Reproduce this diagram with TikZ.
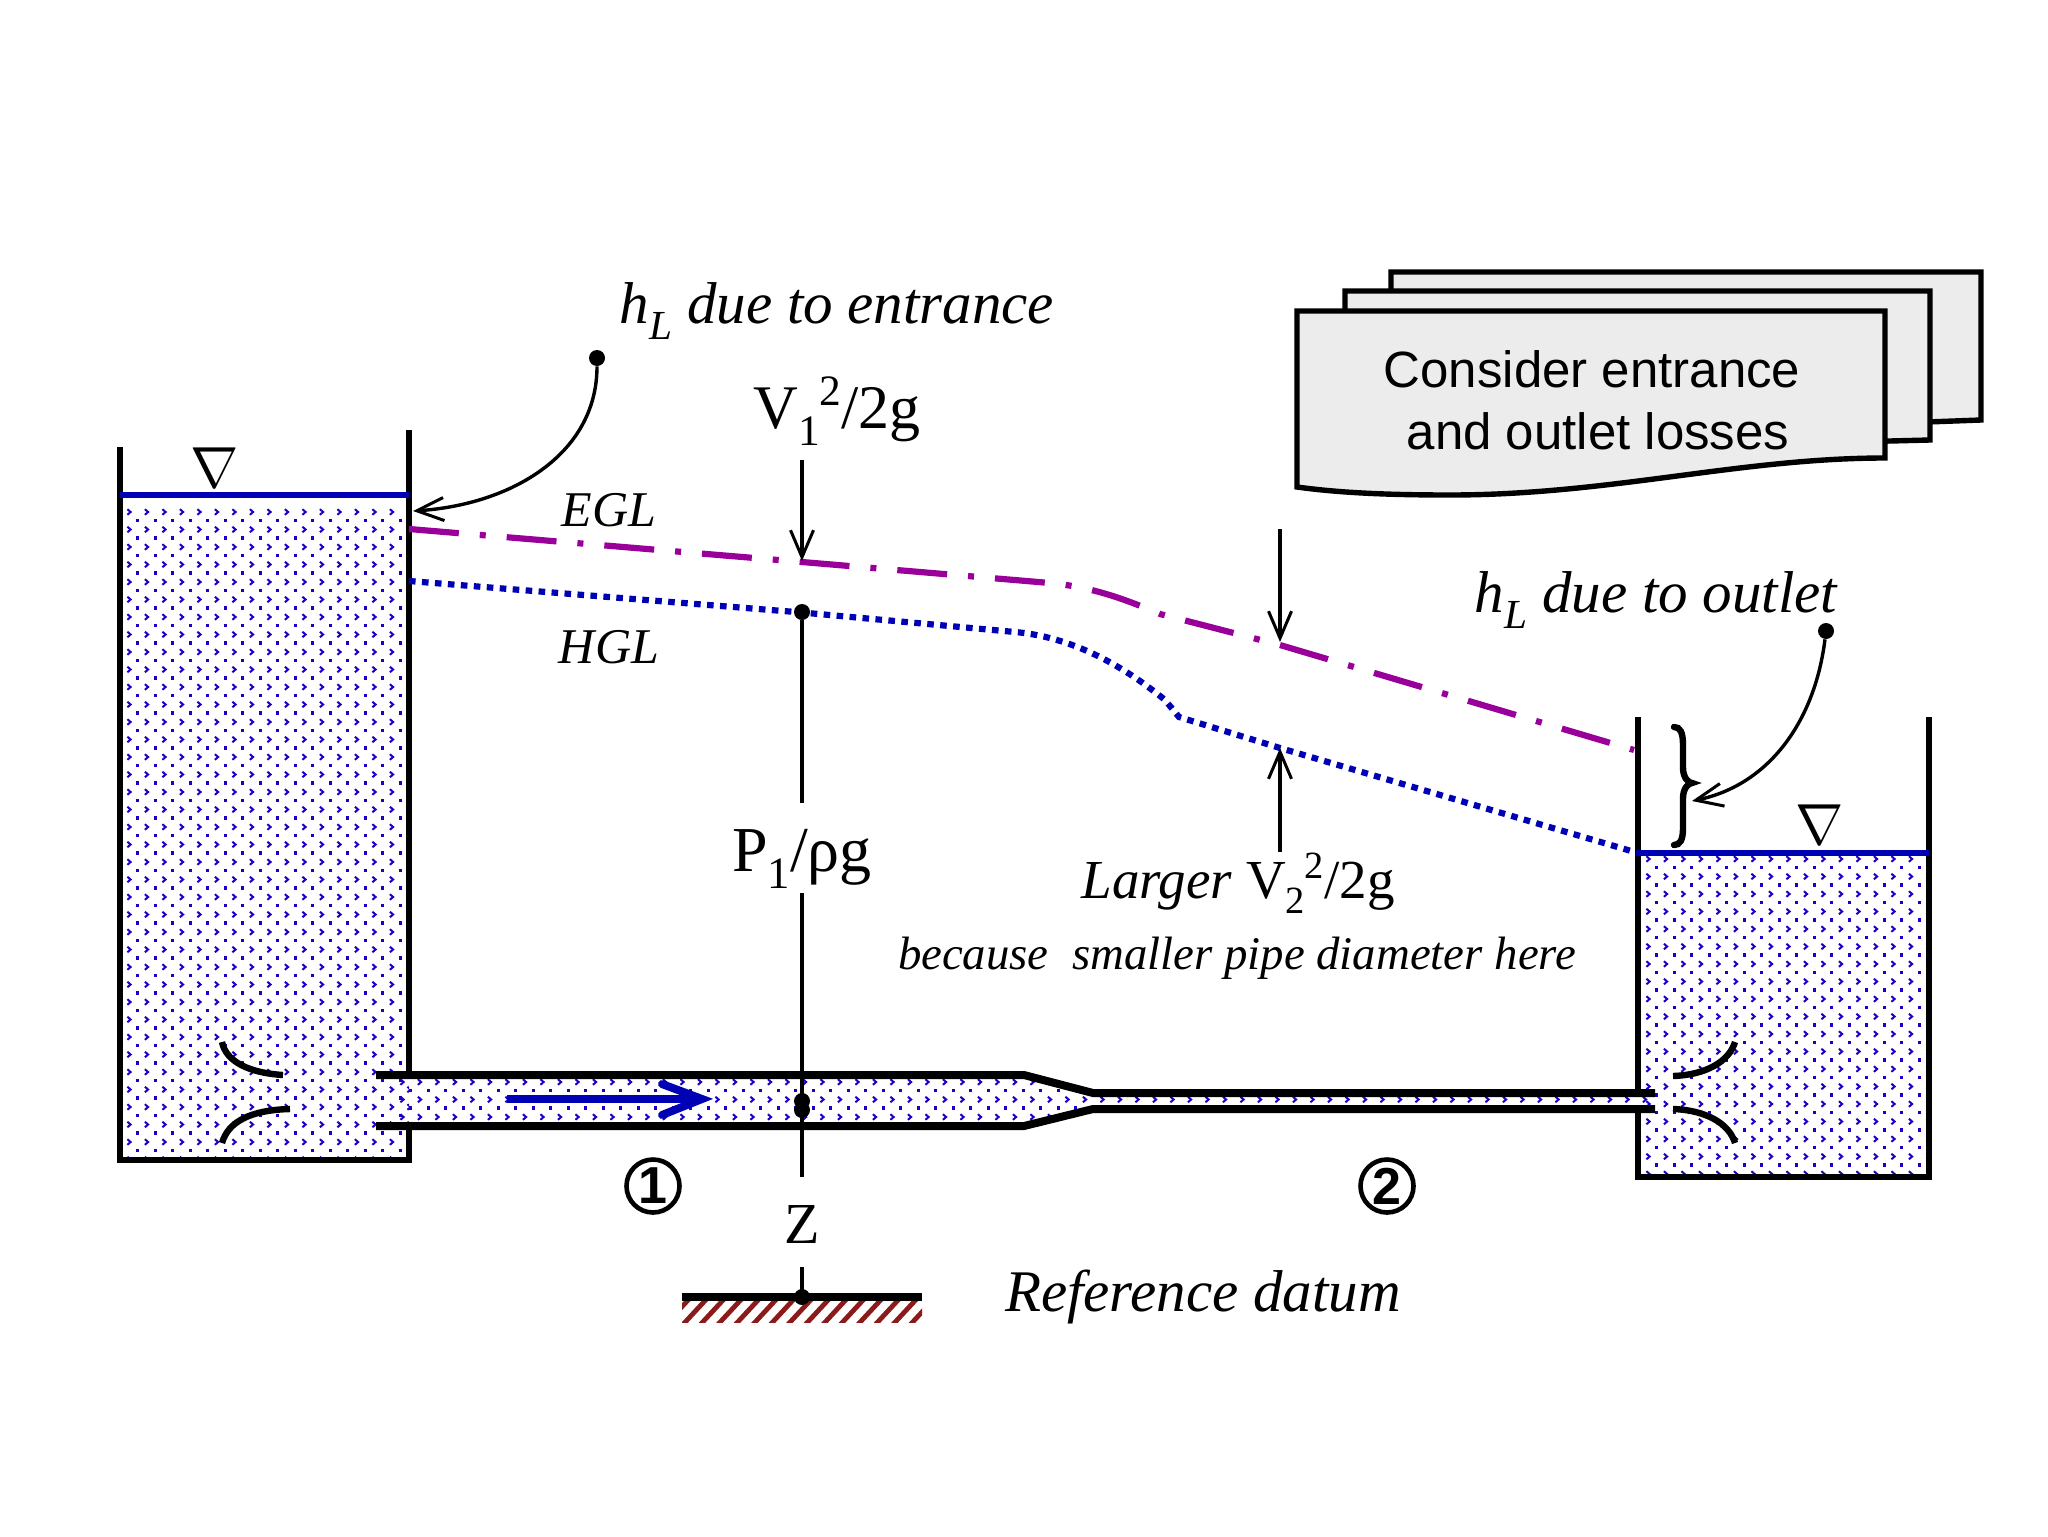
\documentclass[tikz,border=0pt]{standalone}
\usepackage{fontspec}
\setmainfont{Liberation Serif}
\setsansfont{Liberation Sans}
\usetikzlibrary{arrows.meta}
\definecolor{wat}{HTML}{1C00C8}
\definecolor{wline}{HTML}{0000B4}
\definecolor{egl}{HTML}{990099}
\definecolor{hatchc}{HTML}{8B1A1A}
\definecolor{docf}{HTML}{ECECEC}
\newcommand{\fsz}[1]{\fontsize{#1}{#1}\selectfont}
\newcommand{\lowr}[1]{\raisebox{-.28em}{\scalebox{.7}{#1}}}
\newcommand{\uppr}[1]{\raisebox{.36em}{\scalebox{.7}{#1}}}
% water texture: origin x,y ; columns ; rows
\newcommand{\waterdots}[4]{%
  \foreach \ii in {0,...,#3}{\foreach \jj in {0,...,#4}{%
    \draw[wat,line width=1pt,line join=miter] ({#1+\ii*17.5-1.6},{#2+\jj*17.5-2.8}) -- ({#1+\ii*17.5+1.6},{#2+\jj*17.5}) -- ({#1+\ii*17.5-1.6},{#2+\jj*17.5+2.8});
    \fill[wat] ({#1+\ii*17.5+7},{#2+\jj*17.5+6.6}) rectangle ({#1+\ii*17.5+10.4},{#2+\jj*17.5+10});
  }}}
\tikzset{
  wall/.style={line width=3.2pt,black},
  pipewall/.style={line width=4pt,black},
  streamline/.style={line width=3.2pt,black,line cap=butt},
  waterline/.style={line width=2.8pt,wline},
  thinarrow/.style={line width=1.7pt,black,-{Straight Barb[length=13.5pt,width=11.5pt,line width=1.5pt]}},
  thinline/.style={line width=1.7pt,black},
  txt/.style={inner sep=0pt,anchor=base},
  bigit/.style={txt,font=\fsz{29.5}\itshape},
  upr/.style={txt,font=\fsz{31}},
  docbox/.style={line width=2.7pt,draw=black,fill=docf,line join=miter},
  knob/.style={fill=black,circle,inner sep=0pt,minimum size=8pt},
  circnum/.style={circle,draw=black,line width=2.3pt,inner sep=0pt,minimum size=26.5pt,font=\sffamily\bfseries\fsz{26}}
}
\begin{document}
\begin{tikzpicture}[x=0.5pt,y=-0.5pt]
\useasboundingbox (0,0) rectangle (2048,1536);
\fill[white] (0,0) rectangle (2048,1536);

% water textures
\begin{scope}
\clip (120,498) rectangle (409,1160);
\waterdots{129}{512}{16}{37}
\end{scope}
\begin{scope}
\clip (392,1078) -- (1024,1078) -- (1093,1095) -- (1655,1095) -- (1655,1107) -- (1093,1107) -- (1024,1124) -- (392,1124) -- cycle;
\waterdots{402}{1082}{72}{2}
\end{scope}
\begin{scope}
\clip (1638,853) rectangle (1929,1177);
\waterdots{1648}{859}{16}{18}
\end{scope}

% documents
\draw[docbox] (1391,420) -- (1391,272) -- (1981,272) -- (1981,420) -- (1900,423) -- (1391,423);
\draw[docbox] (1345,440) -- (1345,291) -- (1930,291) -- (1930,440) -- (1850,442) -- (1345,442);
\draw[docbox] (1297,487) -- (1297,311) -- (1885,311) -- (1885,458) .. controls (1740,458) and (1610,495) .. (1450,495) .. controls (1390,495) and (1340,493) .. (1297,487) -- cycle;
\node[txt,font=\sffamily\fsz{25.5}] (doc1) at (1592,387) {Consider entrance};
\node[txt,font=\sffamily\fsz{25.5}] (doc2) at (1598,449) {and outlet losses};

% tanks
\draw[wall] (120,447) -- (120,1160) -- (409,1160) -- (409,1126);
\draw[wall] (409,1075) -- (409,430);
\draw[waterline] (120,495) -- (409,495);
\draw[wall] (1638,1092) -- (1638,717);
\draw[wall] (1638,1109) -- (1638,1177) -- (1929,1177) -- (1929,717);
\draw[waterline] (1638,853) -- (1929,853);

% pipes
\draw[pipewall] (376,1075) -- (1024,1075) -- (1093,1093) -- (1655,1093);
\draw[pipewall] (376,1126) -- (1024,1126) -- (1093,1109) -- (1655,1109);

% entrance / exit streamlines
\draw[streamline] (222,1042) .. controls (226,1062) and (250,1073) .. (283,1075);
\draw[streamline] (222,1143) .. controls (228,1122) and (250,1110) .. (290,1109);
\draw[streamline] (1735,1042) .. controls (1729,1062) and (1705,1075) .. (1673,1076);
\draw[streamline] (1735,1143) .. controls (1729,1123) and (1705,1110) .. (1673,1109);

% flow arrow
\coordinate (flowA) at (507,1099);
\coordinate (flowB) at (700,1099);
\draw[wline,line width=4pt] (flowA) -- (flowB);
\draw[wline,line width=4pt,line cap=round,line join=miter] (662,1084) -- (702,1099) -- (662,1115);

% grade lines
\draw[egl,line width=3.1pt,dash pattern=on 25pt off 10.5pt on 3pt off 10.5pt] (409,529) -- (802,562) -- (1050,583) .. controls (1090,587) and (1120,597) .. (1160,614) -- (1280,645) -- (1634,750);
\draw[wline,line width=3.1pt,dash pattern=on 3.3pt off 3.2pt] (409,581) -- (802,612.5) -- (1015,632) .. controls (1060,636) and (1110,655) .. (1165,700) -- (1179,717) -- (1280,748) -- (1638,853);

% labels with nabla
\node[inner sep=0pt,scale=2.9] (nab1) at (215,468) {$\nabla$};
\node[inner sep=0pt,scale=2.9] (nab2) at (1820,825) {$\nabla$};

% vertical column
\node[upr] (v1) at (837,428) {V\lowr{1}\uppr{2}/2g};
\node[upr,font=\fsz{32}] (p1) at (802,871) {P\lowr{1}/ρg};
\node[upr,font=\fsz{29}] (z) at (802,1243) {Z};
\coordinate (v1s) at (802,460);
\coordinate (egl1) at (802,561);
\coordinate (hgl1) at (802,612);
\coordinate (p1t) at (802,803);
\coordinate (p1b) at (802,893);
\coordinate (pipeB) at (802,1177);
\coordinate (zb) at (802,1267);
\coordinate (datum) at (802,1297);
\draw[thinarrow] (v1s) -- (egl1);
\node[knob] (hglk) at (hgl1) {};
\draw[thinline] (hglk) -- (p1t);
\draw[thinline] (p1b) -- (pipeB);
\node[knob] (k1) at (802,1101) {};
\node[knob] (k2) at (802,1110) {};
\draw[thinline] (zb) -- (datum);

% datum
\begin{scope}
\clip (682,1300) rectangle (922,1322);
\foreach \hh in {0,...,15}{
  \draw[hatchc,line width=2.4pt] ({664+\hh*17.5},1326) -- ({664+\hh*17.5+26},1298);
}
\end{scope}
\draw[line width=3.6pt] (682,1297) -- (922,1297);
\node[knob] (dk) at (datum) {};

% text labels
\node[bigit] (hle) at (837,323) {h\lowr{L} due to entrance};
\node[bigit] (hlo) at (1656,612) {h\lowr{L} due to outlet};
\node[txt,font=\fsz{25}\itshape] (egl) at (609,526) {EGL};
\node[txt,font=\fsz{25}\itshape] (hgl) at (609,663) {HGL};
\node[txt,font=\fsz{27.5}] (larger) at (1238,898) {\itshape Larger\upshape{} V\lowr{2}\uppr{2}/2g};
\node[txt,font=\fsz{23.4}\itshape] (because) at (1237,969) {because\ \ smaller pipe diameter here};
\node[bigit] (ref) at (1203,1311) {Reference datum};
\node[circnum] (one) at (653,1186) {1};
\node[circnum] (two) at (1387,1186) {2};

% h_L leaders
\node[knob] (ke) at (597,358) {};
\coordinate (ee) at (413,511);
\draw[thinarrow] (ke) .. controls (597,455) and (510,505) .. (ee);
\node[knob] (ko) at (1826,631) {};
\coordinate (oe) at (1692,801);
\draw[thinarrow] (ko) .. controls (1815,720) and (1770,785) .. (oe);

% brace
\draw[line width=3.2pt,line cap=round] (1674,727) .. controls (1680,727) and (1683,732) .. (1683,745) -- (1683,768) .. controls (1683,777) and (1688,783) .. (1692,783) .. controls (1688,783) and (1683,789) .. (1683,798) -- (1683,828) .. controls (1683,840) and (1680,845) .. (1674,845);

% V2 arrows
\coordinate (a1) at (1280,529);
\coordinate (a1e) at (1280,642);
\coordinate (a2) at (1280,852);
\coordinate (a2e) at (1280,748);
\draw[thinarrow] (a1) -- (a1e);
\draw[thinarrow] (a2) -- (a2e);
\end{tikzpicture}
\end{document}
